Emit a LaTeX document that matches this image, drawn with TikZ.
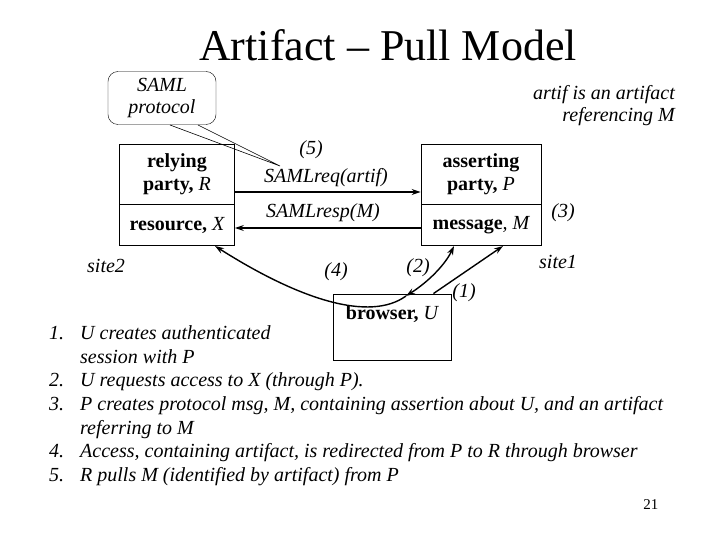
\documentclass[tikz,border=0pt]{standalone}
\usepackage{fontspec}
\setmainfont{Liberation Serif}
\usetikzlibrary{arrows.meta, positioning}

\begin{document}
\begin{tikzpicture}[x=1pt,y=-1pt,
  box/.style={draw, line width=0.8pt, minimum width=115pt, align=center, font=\fontsize{20}{23}\selectfont\bfseries},
  lbl/.style={font=\fontsize{20}{22}\selectfont\itshape, inner sep=1pt},
  flow/.style={line width=1.4pt, -{Stealth[length=9pt,width=6pt]}}]
\useasboundingbox (0,0) rectangle (720,540);

% Title
\node (title) at (388,45) {\fontsize{44}{48}\selectfont Artifact -- Pull Model};

% Parties
\node[box, minimum height=60pt] (rp) at (177,174) {relying\\party, \normalfont\itshape R};
\node[box, minimum height=41pt, below=0pt of rp] (res) {resource, \normalfont\itshape X};
\node[box, minimum width=120pt, minimum height=60pt] (ap) at (481,174) {asserting\\party, \normalfont\itshape P};
\node[box, minimum width=120pt, minimum height=41pt, below=0pt of ap] (msg) {message\normalfont\itshape, M};
\node[box, minimum width=118pt, minimum height=66pt, text depth=28pt] (br) at (392,327) {browser, \normalfont\itshape U};

% Callout
\node[draw, rounded corners=10pt, minimum width=108pt, minimum height=53pt, align=center, lbl] (saml) at (162,98) {SAML\\protocol};
\coordinate (tip) at (280,166);
\draw[line width=0.6pt] (170,125) -- (tip) -- (198,125);

% Messages
\draw[flow] (rp.east |- 0,192) coordinate (a1) -- (ap.west |- a1);
\draw[flow] (msg.west |- 0,228) coordinate (a2) -- (res.east |- a2);
\node[lbl] (req) at (326,178) {SAMLreq(artif)};
\node[lbl] (resp) at (323,213) {SAMLresp(M)};
\node[lbl] (n5) at (311,150) {(5)};

% Browser flows
\coordinate (bt) at (406,296);
\draw[flow] (bt) .. controls (370,322) and (300,300) .. (215,246);
\draw[flow, {Stealth[length=9pt,width=6pt]}-{Stealth[length=9pt,width=6pt]}] (bt) .. controls (428,282) and (445,265) .. (454,246);
\draw[flow] (br.north east) ++(-18,0) coordinate (b1) -- (503,246);
\node[lbl] (n4) at (336,272) {(4)};
\node[lbl] (n2) at (418,268) {(2)};
\node[lbl] (n1) at (464,293) {(1)};
\node[lbl] (n3) at (563,213) {(3)};

% Site labels
\node[lbl, anchor=west] (s2) at (86,266) {site2};
\node[lbl, anchor=west] (s1) at (538,262) {site1};
\node[lbl, align=right, anchor=north east] (artif) at (676,84) {artif is an artifact\\referencing M};

% Steps
\node[lbl, anchor=north west, align=left] (steps) at (48,322)
 {\renewcommand{\arraystretch}{1.0}\fontsize{20}{23.6}\selectfont\itshape
 \begin{tabular}{@{}l@{\hspace{16pt}}l@{}}
  1. & U creates authenticated\\
     & session with P\\
  2. & U requests access to X (through P).\\
  3. & P creates protocol msg, M, containing assertion about U, and an artifact\\
     & referring to M\\
  4. & Access, containing artifact, is redirected from P to R through browser\\
  5. & R pulls M (identified by artifact) from P
 \end{tabular}};
\node[anchor=east] (page) at (662,505) {\fontsize{15}{17}\selectfont 21};
\end{tikzpicture}
\end{document}
